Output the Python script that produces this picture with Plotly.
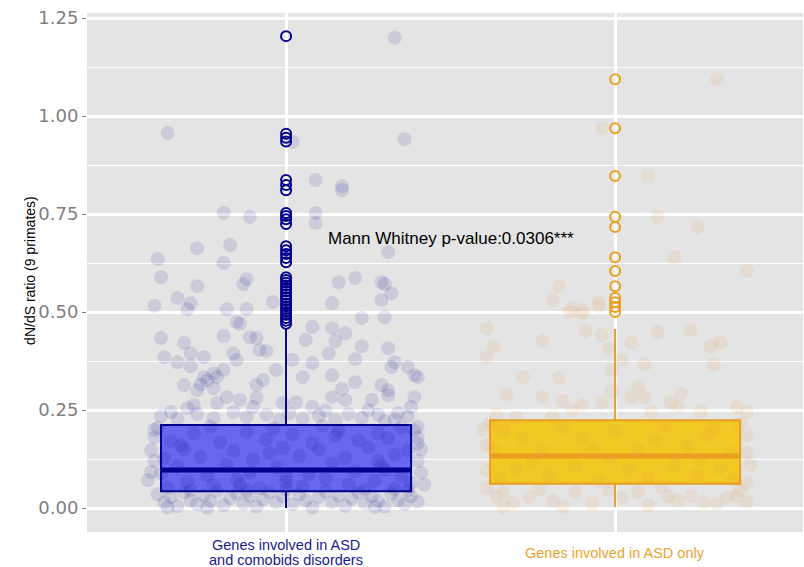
import plotly.graph_objects as go

# ---------------- data ----------------
categories = ["Genes involved in ASD\nand comobids disorders", "Genes involved in ASD only"]
label_colors = ["#1a1a8f", "#E8A32E"]

# box statistics
q1 = [0.043, 0.062]
median = [0.097, 0.133]
q3 = [0.212, 0.224]
lowerfence = [0.0, 0.003]
upperfence = [0.458, 0.457]

# outliers
outliers_com = [1.204, 0.955, 0.945, 0.935, 0.837, 0.824, 0.811, 0.753, 0.745, 0.737, 0.725,
                0.668, 0.658, 0.648, 0.638, 0.627, 0.589, 0.582, 0.575, 0.568, 0.560, 0.553,
                0.545, 0.538, 0.530, 0.522, 0.515, 0.508, 0.500, 0.493, 0.485, 0.478, 0.470]
outliers_only = [1.094, 0.969, 0.847, 0.743, 0.717, 0.640, 0.605, 0.566, 0.536, 0.525, 0.513, 0.500]

# jittered gene points: (jitter offset, dN/dS)
jitter_com = [
    (0.33, 1.20), (-0.36, 0.957), (0.02, 0.934), (0.36, 0.941), (0.09, 0.837), (0.17, 0.821),
    (0.17, 0.811), (-0.19, 0.753), (-0.11, 0.743), (0.09, 0.753), (0.09, 0.727), (-0.27, 0.663),
    (-0.17, 0.671), (-0.39, 0.635), (-0.19, 0.625), (0.31, 0.653), (-0.38, 0.589), (-0.27, 0.566),
    (-0.12, 0.584), (-0.13, 0.571), (0.16, 0.576), (0.21, 0.587), (0.29, 0.576), (0.30, 0.571),
    (0.32, 0.548), (0.29, 0.531), (-0.40, 0.516), (-0.33, 0.536), (-0.29, 0.523), (-0.30, 0.508),
    (0.14, 0.523), (-0.04, 0.526), (-0.18, 0.507), (-0.12, 0.508), (0.23, 0.485), (0.30, 0.487),
    (-0.15, 0.475), (-0.14, 0.470), (0.08, 0.462), (0.14, 0.459), (0.18, 0.446), (-0.38, 0.434),
    (-0.31, 0.421), (-0.19, 0.439), (-0.11, 0.436), (-0.09, 0.434), (0.06, 0.429), (0.15, 0.426),
    (0.23, 0.413), (0.31, 0.408), (-0.37, 0.385), (-0.29, 0.395), (-0.25, 0.385), (-0.33, 0.372),
    (-0.29, 0.362), (-0.16, 0.395), (-0.15, 0.378), (-0.08, 0.403), (-0.06, 0.401), (0.02, 0.378),
    (0.08, 0.370), (0.13, 0.395), (0.21, 0.380), (0.33, 0.372), (0.32, 0.360), (0.37, 0.360),
    (0.39, 0.339), (0.40, 0.334), (-0.19, 0.352), (-0.22, 0.344), (-0.21, 0.334), (-0.25, 0.334),
    (-0.03, 0.352), (0.05, 0.334), (0.14, 0.339), (0.21, 0.321), (-0.31, 0.314), (-0.26, 0.316),
    (-0.24, 0.326), (-0.22, 0.306), (-0.27, 0.301), (-0.07, 0.327), (-0.09, 0.314), (0.29, 0.314),
    (0.31, 0.301), (0.31, 0.288), (0.39, 0.283), (0.17, 0.304), (0.14, 0.283), (0.18, 0.276),
    (-0.09, 0.281), (-0.18, 0.283), (-0.14, 0.276), (-0.28, 0.263), (-0.30, 0.255), (-0.21, 0.268),
    (-0.10, 0.258), (-0.01, 0.268), (0.03, 0.270), (0.08, 0.258), (0.25, 0.250), (0.26, 0.276),
    (0.34, 0.242), (0.38, 0.258),
    (-0.38, 0.235), (-0.33, 0.228), (-0.27, 0.240), (-0.22, 0.230), (-0.16, 0.245), (-0.12, 0.232),
    (-0.06, 0.238), (0.01, 0.242), (0.05, 0.228), (0.10, 0.236), (0.15, 0.224), (0.19, 0.240),
    (0.23, 0.230), (0.28, 0.238), (0.33, 0.226), (0.37, 0.234), (-0.35, 0.245), (0.12, 0.248),
    (-0.02, 0.225), (0.30, 0.222),
    (-0.40, 0.18), (-0.41, 0.148), (-0.41, 0.092), (-0.42, 0.071), (-0.40, 0.12), (0.40, 0.207),
    (0.40, 0.18), (0.41, 0.15), (0.40, 0.12), (0.41, 0.09), (0.42, 0.06), (0.40, 0.165), (-0.40, 0.20),
    (-0.39, 0.035), (-0.37, 0.015), (-0.35, 0.028), (-0.33, 0.005), (-0.31, 0.040), (-0.29, 0.020),
    (-0.27, 0.010), (-0.25, 0.032), (-0.23, 0.018), (-0.21, 0.042), (-0.19, 0.008), (-0.17, 0.025),
    (-0.15, 0.038), (-0.13, 0.012), (-0.11, 0.030), (-0.09, 0.004), (-0.07, 0.022), (-0.05, 0.040),
    (-0.03, 0.014), (-0.01, 0.030), (0.02, 0.010), (0.04, 0.035), (0.06, 0.020), (0.08, 0.002),
    (0.10, 0.028), (0.12, 0.042), (0.14, 0.015), (0.16, 0.032), (0.18, 0.006), (0.20, 0.024),
    (0.22, 0.040), (0.24, 0.012), (0.26, 0.030), (0.28, 0.018), (0.30, 0.004), (0.32, 0.036),
    (0.34, 0.020), (0.36, 0.010), (0.38, 0.030), (0.40, 0.016), (-0.36, 0.002), (-0.24, 0.001),
    (0.27, 0.003), (0.37, 0.045), (-0.12, 0.045), (0.0, 0.048),
    (-0.36, 0.052), (-0.22, 0.058), (-0.08, 0.050), (0.05, 0.055), (0.19, 0.061), (0.33, 0.049),
    (-0.30, 0.068), (-0.15, 0.072), (0.00, 0.066), (0.12, 0.075), (0.27, 0.070), (0.38, 0.064),
    (-0.38, 0.088), (-0.24, 0.084), (-0.11, 0.091), (0.07, 0.086), (0.21, 0.093), (0.35, 0.082),
    (-0.33, 0.106), (-0.18, 0.110), (-0.03, 0.104), (0.14, 0.112), (0.29, 0.108),
    (-0.37, 0.127), (-0.26, 0.131), (-0.10, 0.124), (0.04, 0.133), (0.18, 0.128), (0.33, 0.136),
    (-0.31, 0.150), (-0.16, 0.146), (-0.01, 0.153), (0.10, 0.149), (0.25, 0.155), (0.37, 0.147),
    (-0.35, 0.171), (-0.20, 0.168), (-0.06, 0.175), (0.08, 0.166), (0.22, 0.173), (0.31, 0.178),
    (-0.28, 0.190), (-0.12, 0.194), (0.02, 0.188), (0.16, 0.196), (0.28, 0.191), (0.39, 0.198),
    (-0.39, 0.205), (-0.23, 0.208), (-0.04, 0.203), (0.11, 0.210), (0.35, 0.206),
    (-0.29, 0.045), (0.24, 0.047), (-0.14, 0.060), (0.30, 0.098), (-0.05, 0.140), (0.00, 0.080),
    (0.15, 0.185), (-0.32, 0.160), (0.28, 0.120),
]

jitter_only = [
    (0.31, 1.094), (-0.04, 0.969), (0.10, 0.847), (0.13, 0.743), (0.25, 0.717), (0.18, 0.640),
    (0.40, 0.605), (-0.17, 0.566), (-0.19, 0.531), (-0.05, 0.526), (-0.13, 0.510), (-0.10, 0.505),
    (-0.14, 0.500), (-0.10, 0.497), (-0.05, 0.515), (-0.39, 0.459), (-0.37, 0.411), (-0.39, 0.385),
    (-0.22, 0.426), (-0.09, 0.452), (-0.04, 0.441), (0.13, 0.449), (0.23, 0.454), (0.05, 0.421),
    (-0.02, 0.406), (0.02, 0.378), (0.09, 0.367), (0.29, 0.413), (0.32, 0.423), (0.30, 0.367),
    (-0.28, 0.334), (-0.17, 0.332), (-0.01, 0.352), (-0.33, 0.291), (-0.22, 0.283), (-0.16, 0.273),
    (0.07, 0.309), (0.05, 0.283), (0.09, 0.283), (-0.01, 0.298), (0.17, 0.270), (0.20, 0.293),
    (0.19, 0.258), (0.26, 0.247), (0.37, 0.258), (0.40, 0.245), (-0.13, 0.250), (-0.10, 0.263),
    (-0.04, 0.268), (-0.19, 0.235), (-0.36, 0.237), (-0.30, 0.232), (0.11, 0.245),
    (0.40, 0.186), (0.41, 0.110), (-0.39, 0.161), (-0.39, 0.097), (0.40, 0.140), (-0.40, 0.200),
    (-0.39, 0.051), (-0.34, 0.041), (-0.36, 0.030), (-0.34, 0.003), (-0.31, 0.015), (-0.26, 0.028),
    (-0.23, 0.048), (-0.19, 0.018), (-0.16, 0.003), (-0.12, 0.041), (-0.02, 0.046), (0.02, 0.028),
    (0.07, 0.041), (0.14, 0.054), (0.16, 0.030), (0.19, 0.020), (0.23, 0.030), (0.27, 0.015),
    (0.31, 0.010), (0.34, 0.028), (0.38, 0.046), (0.37, 0.030), (0.40, 0.015), (0.40, 0.064),
    (-0.07, 0.012), (0.10, 0.008),
    (-0.35, 0.075), (-0.20, 0.082), (-0.05, 0.070), (0.10, 0.078), (0.25, 0.085), (0.36, 0.072),
    (-0.30, 0.100), (-0.12, 0.105), (0.04, 0.098), (0.18, 0.110), (0.32, 0.102),
    (-0.37, 0.150), (-0.22, 0.145), (-0.07, 0.152), (0.07, 0.148), (0.22, 0.158), (0.35, 0.143),
    (-0.28, 0.175), (-0.10, 0.180), (0.12, 0.172), (0.28, 0.185),
    (-0.34, 0.200), (-0.16, 0.205), (0.00, 0.198), (0.15, 0.210), (0.30, 0.203),
    (-0.25, 0.120), (0.26, 0.125), (-0.02, 0.125), (0.38, 0.215), (-0.38, 0.215),
]

y_ticks = [0.0, 0.25, 0.5, 0.75, 1.0, 1.25]
y_ticktext = ["0.00", "0.25", "0.50", "0.75", "1.00", "1.25"]
annotation_text = "Mann Whitney p-value:0.0306***"
y_title = "dN/dS ratio (9 primates)"

# ---------------- styles ----------------
BOX_W = 0.76
box_fill = ["#6767f0", "#F2C824"]
box_line = ["#00008B", "#E8A020"]
pt_color = ["rgba(0,0,139,0.11)", "rgba(215,150,60,0.11)"]

fig = go.Figure()

for i in range(2):
    fig.add_trace(go.Box(
        x=[i], q1=[q1[i]], median=[median[i]], q3=[q3[i]],
        lowerfence=[lowerfence[i]], upperfence=[upperfence[i]],
        width=BOX_W, whiskerwidth=0, fillcolor=box_fill[i],
        line=dict(color=box_line[i], width=2), boxpoints=False,
        showlegend=False, hoverinfo="skip"))

for i, pts in enumerate([jitter_com, jitter_only]):
    fig.add_trace(go.Scatter(
        x=[i + p[0] for p in pts], y=[p[1] for p in pts], mode="markers",
        marker=dict(size=14, color=pt_color[i], line=dict(width=0)),
        showlegend=False, hoverinfo="skip"))

for i in range(2):
    fig.add_trace(go.Scatter(
        x=[i - BOX_W / 2, i + BOX_W / 2], y=[median[i], median[i]], mode="lines",
        line=dict(color=box_line[i], width=5), showlegend=False, hoverinfo="skip"))

for i, outs in enumerate([outliers_com, outliers_only]):
    fig.add_trace(go.Scatter(
        x=[i] * len(outs), y=outs, mode="markers",
        marker=dict(symbol="circle-open", size=10, color=box_line[i], line=dict(width=2)),
        showlegend=False, hoverinfo="skip"))

fig.update_layout(
    width=804, height=567,
    margin=dict(l=87, r=1, t=13, b=35),
    paper_bgcolor="white", plot_bgcolor="#e4e4e4",
    font=dict(family="Liberation Sans, Arial, sans-serif"),
    xaxis=dict(range=[-0.605, 1.571], tickvals=[0, 1], showticklabels=False,
               showgrid=True, gridcolor="white", gridwidth=3, zeroline=False, ticks=""),
    yaxis=dict(range=[-0.061, 1.263], tickvals=y_ticks, ticktext=y_ticktext,
               showgrid=True, gridcolor="white", gridwidth=2.5, zeroline=False,
               ticks="outside", ticklen=4, tickcolor="#7f7f7f",
               tickfont=dict(family="DejaVu Sans", size=18, color="#7f7f7f"),
               minor=dict(tickvals=[0.125, 0.375, 0.625, 0.875, 1.125], showgrid=True,
                          gridcolor="white", gridwidth=1, ticks="")),
)

lines1 = categories[0].split("\n")
fig.add_annotation(x=0, y=-0.026, xref="x", yref="paper", text=lines1[0], showarrow=False,
                   yanchor="middle", font=dict(size=14.5, color=label_colors[0]))
fig.add_annotation(x=0, y=-0.053, xref="x", yref="paper", text=lines1[1], showarrow=False,
                   yanchor="middle", font=dict(size=14.5, color=label_colors[0]))
fig.add_annotation(x=1, y=-0.0405, xref="x", yref="paper", text=categories[1], showarrow=False,
                   yanchor="middle", font=dict(size=14.5, color=label_colors[1]))
fig.add_annotation(x=-0.0936, y=0.505, xref="paper", yref="paper", text=y_title,
                   showarrow=False, textangle=-90, font=dict(size=14, color="black"))
fig.add_annotation(x=0.5, y=0.689, xref="x", yref="y", text=annotation_text, showarrow=False,
                   font=dict(size=17, color="black"))

fig.write_html("out.html", config={"displayModeBar": False},
               post_script="document.body.style.margin='0';document.body.style.overflow='hidden';")
